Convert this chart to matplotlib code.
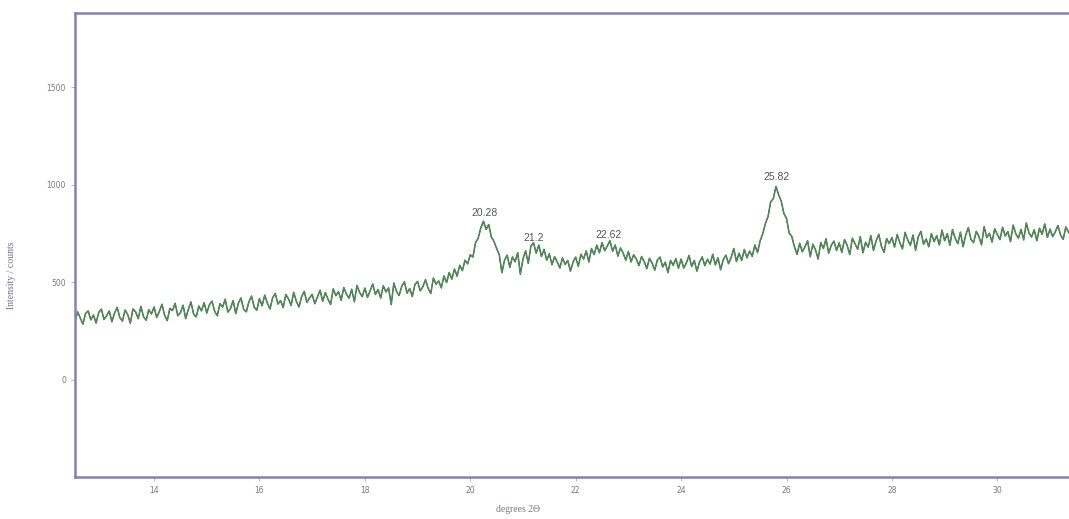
import numpy as np
import matplotlib
matplotlib.use('Agg')
import matplotlib.pyplot as plt

# two-theta grid (0.05 deg steps) and intensity
two_theta = np.round(np.arange(12.50, 31.401, 0.05), 2)
counts = np.array([
    298, 347, 315, 284, 339, 352, 306, 331, 290, 344,
    361, 308, 327, 352, 296, 341, 370, 318, 300, 356, 333, 289, 362, 347, 312, 375, 322, 304, 358, 336,
    372, 318, 349, 386, 330, 302, 365, 354, 391, 327, 343, 381, 312, 359, 398, 336, 321, 377, 352, 394,
    341, 383, 402, 350, 327, 389, 371, 412, 346, 364, 405, 338, 392, 418, 360, 347, 399, 428, 371, 356,
    415, 378, 433, 392, 362, 420, 441, 387, 405, 369, 436, 414, 380, 447, 401, 372, 425, 452, 396, 418,
    437, 389, 423, 458, 401, 446, 412, 385, 465, 430, 451, 406, 472, 438, 417, 463, 399, 482, 447, 425,
    469, 421, 455, 490, 436, 462, 418, 481, 449, 470, 384, 495, 452, 431, 478, 501, 443, 467, 426, 488,
    503, 455, 476, 512, 468, 441, 521, 489, 506, 470, 531, 497, 549, 515, 567, 530, 586, 558, 612, 593,
    640, 628, 702, 725, 778, 812, 770, 795, 731, 708, 672, 640, 548, 612, 638, 575, 629, 604, 651, 540,
    618, 660, 596, 684, 702, 648, 690, 631, 668, 612, 645, 589, 630, 603, 572, 624, 590, 611, 556, 602,
    628, 581, 642, 618, 660, 603, 672, 641, 689, 650, 702, 661, 685, 712, 658, 690, 633, 675, 649, 612,
    657, 603, 640, 618, 584, 631, 605, 569, 622, 597, 561, 613, 628, 577, 602, 548, 611, 586, 620, 571,
    618, 572, 598, 636, 580, 611, 556, 603, 629, 584, 617, 592, 642, 588, 624, 563, 615, 638, 594, 627,
    672, 605, 648, 611, 667, 624, 659, 632, 690, 651, 712, 748, 801, 836, 912, 928, 990, 948, 915, 852,
    826, 752, 734, 681, 642, 699, 655, 681, 712, 630, 694, 665, 618, 703, 672, 722, 648, 689, 710, 662,
    701, 652, 718, 689, 641, 725, 696, 668, 733, 650, 704, 679, 738, 662, 711, 745, 684, 652, 723, 697,
    728, 679, 744, 702, 670, 755, 716, 688, 741, 663, 732, 760, 694, 721, 681, 749, 707, 738, 690, 766,
    712, 748, 689, 769, 725, 697, 756, 681, 741, 779, 718, 702, 760, 734, 691, 784, 728, 750, 705, 773,
    744, 718, 781, 736, 759, 707, 792, 748, 725, 770, 716, 803, 752, 731, 768, 712, 776, 745, 798, 729,
    771, 733, 758, 790, 741, 719, 782, 756, 738,
])

# labelled peaks: position, height of label
peak_pos = [20.28, 21.2, 22.62, 25.82]
peak_labels = ['20.28', '21.2', '22.62', '25.82']
label_y = [855, 725, 740, 1040]

x_ticks = [14, 16, 18, 20, 22, 24, 26, 28, 30]
y_ticks = [0, 500, 1000, 1500]

spine_col = '#8a80b0'

fig = plt.figure(figsize=(10.69, 5.19), dpi=100)
ax = fig.add_axes([75 / 1069, 1 - 477 / 519, 1 - 75 / 1069, (477 - 13) / 519])

n = min(len(two_theta), len(counts))
ax.plot(two_theta[:n], counts[:n], color='#2d5a3c', lw=1.1)
ax.plot(two_theta[:n], counts[:n], color='#5fa35a', lw=0.5)

for p, t, ly in zip(peak_pos, peak_labels, label_y):
    ax.text(p, ly, t, ha='center', va='center', fontsize=7.5, color='#555555',
            family='Liberation Sans')

ax.set_xlim(12.5, 31.36)
ax.set_ylim(-500, 1880)
ax.set_xticks(x_ticks)
ax.set_yticks(y_ticks)
ax.tick_params(labelsize=5.5, labelcolor='#7a7a7a', color='#aaaaaa', length=3, width=0.6)

for s in ['left', 'bottom', 'top']:
    ax.spines[s].set_color(spine_col)
    ax.spines[s].set_linewidth(1.8)
ax.spines['right'].set_visible(False)

fig.text(12 / 1069, 1 - 275 / 519, 'Intensity / counts', rotation=90, ha='center', va='center',
         fontsize=7, color='#7a6e9e', family='Liberation Serif')
fig.text(518 / 1069, 1 - 510 / 519, 'degrees 2Θ', ha='center', va='center',
         fontsize=7, color='#7a7a8a', family='Liberation Serif')

fig.savefig('out.png', dpi=100)
